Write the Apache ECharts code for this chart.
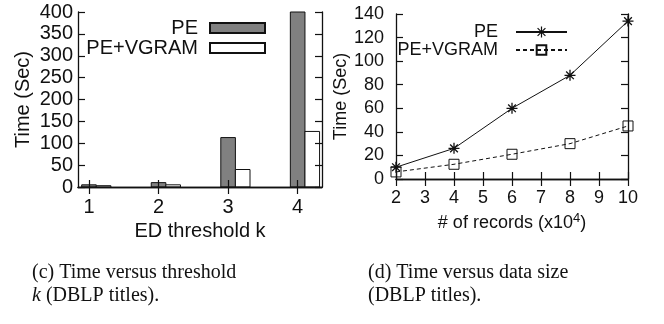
<!DOCTYPE html>
<html>
<head>
<meta charset="utf-8">
<script src="https://cdn.jsdelivr.net/npm/echarts@6/dist/echarts.min.js"></script>
<style>html,body{margin:0;padding:0;background:#fff}#c{width:664px;height:324px}</style>
</head>
<body>
<div id="c"></div>
<script>
// ---- data (chart c) ----
const kCats = [1, 2, 3, 4];
const peTime = [5, 10, 113, 400];
const peVgramTime = [3, 5, 40, 127];
const kTicks = [1, 2, 3, 4];
// ---- data (chart d) ----
const records = [2, 4, 6, 8, 10];
const peLine = [10, 26, 60, 88, 134];
const peVgramLine = [6, 12.5, 21, 30, 45];

const SANS = 'Liberation Sans';
const FL = 20;   // left panel font size
const FR = 18;   // right panel font size
const INK = '#111';

function barItem(off, w) {
  return function (params, api) {
    const x = api.value(0), y = api.value(1);
    const p0 = api.coord([x + off, y]);
    const p1 = api.coord([x + off + w, 0]);
    const cs = params.coordSys;
    const top = Math.max(p0[1], cs.y);
    return {
      type: 'rect',
      shape: { x: p0[0], y: top, width: p1[0] - p0[0], height: p1[1] - top },
      style: api.style()
    };
  };
}

const axisLine = { show: true, lineStyle: { color: INK, width: 1.3 } };
const tickIn = { show: true, inside: true, length: 7, lineStyle: { color: INK, width: 1.2 } };
const lblL = { color: INK, fontFamily: SANS, fontSize: FL };
const lblR = { color: INK, fontFamily: SANS, fontSize: FR };

const astPath = 'path://M5,0L5,10M0,5L10,5M1.5,1.5L8.5,8.5M8.5,1.5L1.5,8.5';

const option = {
  animation: false,
  backgroundColor: '#fff',
  grid: [
    { left: 78, top: 12, width: 244, height: 175, show: false },
    { left: 396, top: 14, width: 232, height: 165, show: false }
  ],
  xAxis: [
    { type: 'value', gridIndex: 0, min: 0.842, max: 4.35, position: 'bottom', z: 5,
      axisLine: axisLine, splitLine: { show: false },
      axisTick: Object.assign({ customValues: kTicks }, tickIn),
      axisLabel: Object.assign({ customValues: kTicks, margin: 10 }, lblL),
      name: 'ED threshold k', nameLocation: 'middle', nameGap: 27,
      nameTextStyle: lblL },
    { type: 'value', gridIndex: 0, min: 0.842, max: 4.35, position: 'top', z: 5,
      axisLine: axisLine, splitLine: { show: false },
      axisTick: Object.assign({ customValues: kTicks }, tickIn),
      axisLabel: { show: false } },
    { type: 'value', gridIndex: 1, min: 2, max: 10, interval: 1, position: 'bottom', z: 5,
      axisLine: axisLine, splitLine: { show: false },
      axisTick: tickIn,
      axisLabel: Object.assign({ margin: 10 }, lblR),
      name: '# of records (x10{sup|4})', nameLocation: 'middle', nameGap: 28,
      nameTextStyle: { color: INK, fontFamily: SANS, fontSize: FR,
        rich: { sup: { fontSize: 13, fontFamily: SANS, color: INK, verticalAlign: 'bottom', padding: [0, 0, 10, 0] } } } },
    { type: 'value', gridIndex: 1, min: 2, max: 10, interval: 1, position: 'top', z: 5,
      axisLine: axisLine, splitLine: { show: false },
      axisTick: tickIn, axisLabel: { show: false } }
  ],
  yAxis: [
    { type: 'value', gridIndex: 0, min: 0, max: 400, interval: 50, position: 'left', z: 5,
      axisLine: axisLine, splitLine: { show: false }, axisTick: tickIn,
      axisLabel: Object.assign({ margin: 5 }, lblL),
      name: 'Time (Sec)', nameLocation: 'middle', nameRotate: 90, nameGap: 45,
      nameTextStyle: lblL },
    { type: 'value', gridIndex: 0, min: 0, max: 400, interval: 50, position: 'right', z: 5,
      axisLine: axisLine, splitLine: { show: false }, axisTick: tickIn, axisLabel: { show: false } },
    { type: 'value', gridIndex: 1, min: 0, max: 140, interval: 20, position: 'left', z: 5,
      axisLine: axisLine, splitLine: { show: false }, axisTick: tickIn,
      axisLabel: Object.assign({ margin: 12 }, lblR),
      name: 'Time (Sec)', nameLocation: 'middle', nameRotate: 90, nameGap: 43,
      nameTextStyle: lblR },
    { type: 'value', gridIndex: 1, min: 0, max: 140, interval: 20, position: 'right', z: 5,
      axisLine: axisLine, splitLine: { show: false }, axisTick: tickIn, axisLabel: { show: false } }
  ],
  legend: [
    { data: [{ name: 'PE', icon: 'rect' }], orient: 'vertical', align: 'right', padding: 0,
      right: 398, top: 18, itemWidth: 55, itemHeight: 10,
      textStyle: { color: INK, fontFamily: SANS, fontSize: FL, padding: [0, 7, 0, 0] } },
    { data: [{ name: 'PE+VGRAM', icon: 'rect' }], orient: 'vertical', align: 'right', padding: 0,
      right: 398, top: 38, itemWidth: 55, itemHeight: 10,
      textStyle: { color: INK, fontFamily: SANS, fontSize: FL, padding: [0, 7, 0, 0] } },
    { data: [{ name: 'PE ', itemStyle: { color: 'rgba(0,0,0,0)', borderColor: INK, borderWidth: 1.2 } }],
      orient: 'vertical', align: 'right', padding: 0,
      right: 96, top: 23, itemWidth: 51, itemHeight: 14,
      textStyle: { color: INK, fontFamily: SANS, fontSize: FR, padding: [0, 8, 0, 0] } },
    { data: ['PE+VGRAM '], orient: 'vertical', align: 'right', padding: 0,
      right: 96, top: 41, itemWidth: 51, itemHeight: 12,
      textStyle: { color: INK, fontFamily: SANS, fontSize: FR, padding: [0, 8, 0, 0] } }
  ],
  title: [
    { text: '(c) Time versus threshold\n{it|k} (DBLP titles).', left: 32, top: 261, padding: 0,
      textStyle: { color: '#111', fontFamily: 'Liberation Serif', fontSize: 20, fontWeight: 'normal', lineHeight: 23,
        rich: { it: { fontStyle: 'italic', fontFamily: 'Liberation Serif', fontSize: 20, color: '#111' } } } },
    { text: '(d) Time versus data size\n(DBLP titles).', left: 368, top: 261, padding: 0,
      textStyle: { color: '#111', fontFamily: 'Liberation Serif', fontSize: 20, fontWeight: 'normal', lineHeight: 23 } }
  ],
  series: [
    { name: 'PE', type: 'custom', xAxisIndex: 0, yAxisIndex: 0,
      renderItem: barItem(-0.105, 0.21),
      itemStyle: { color: '#808080', borderColor: INK, borderWidth: 1 },
      encode: { x: 0, y: 1 },
      data: kCats.map((k, i) => [k, peTime[i]]) },
    { name: 'PE+VGRAM', type: 'custom', xAxisIndex: 0, yAxisIndex: 0,
      renderItem: barItem(0.105, 0.21),
      itemStyle: { color: '#ffffff', borderColor: INK, borderWidth: 1 },
      encode: { x: 0, y: 1 },
      data: kCats.map((k, i) => [k, peVgramTime[i]]) },
    { name: 'PE ', type: 'line', xAxisIndex: 2, yAxisIndex: 2,
      symbol: astPath, symbolSize: 11,
      lineStyle: { color: INK, width: 1 },
      itemStyle: { color: 'rgba(0,0,0,0)', borderColor: INK, borderWidth: 1.3 },
      data: records.map((r, i) => [r, peLine[i]]) },
    { name: 'PE+VGRAM ', type: 'line', xAxisIndex: 2, yAxisIndex: 2,
      symbol: 'rect', symbolSize: 10,
      lineStyle: { color: INK, width: 1, type: [4, 3] },
      itemStyle: { color: 'rgba(255,255,255,0)', borderColor: INK, borderWidth: 1 },
      data: records.map((r, i) => [r, peVgramLine[i]]) }
  ]
};

const chart = echarts.init(document.getElementById('c'), null, { renderer: 'canvas' });
chart.setOption(option);
</script>
</body>
</html>
